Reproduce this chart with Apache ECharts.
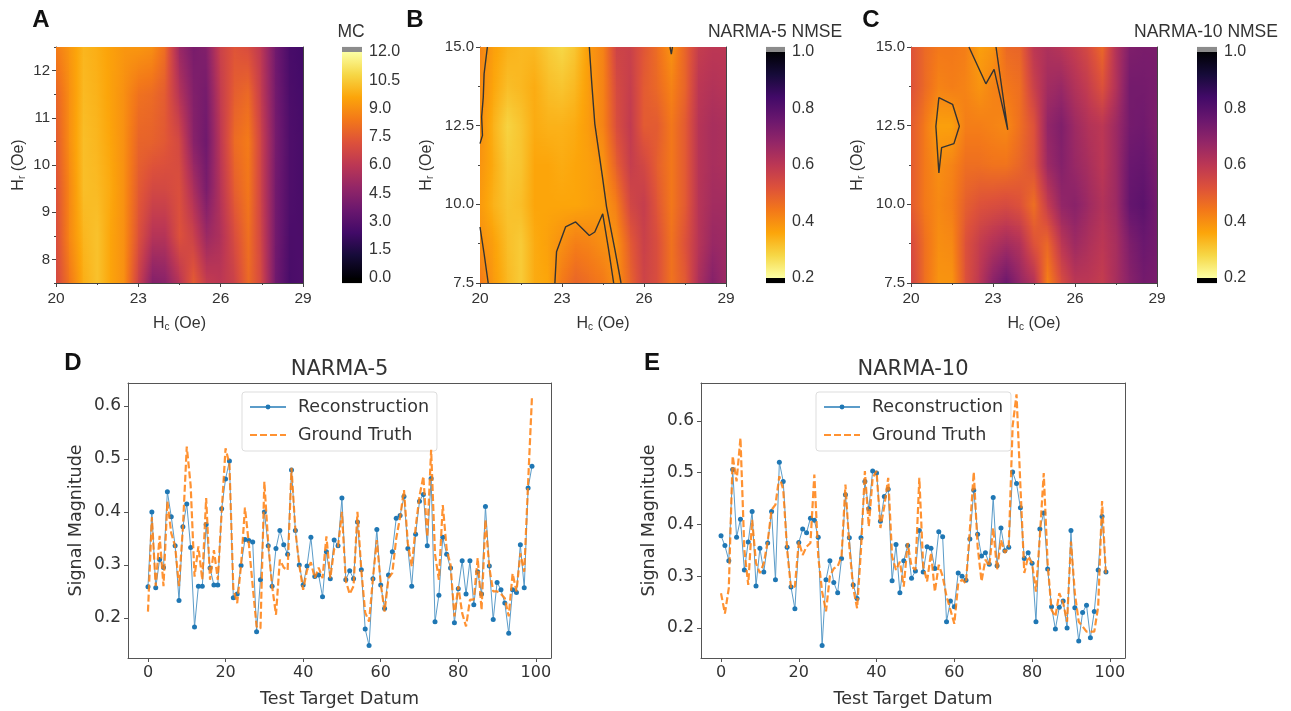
<!DOCTYPE html>
<html lang="en">
<head>
    <meta charset="UTF-8">
    <title>Reservoir heatmaps and NARMA reconstruction</title>
    <script src="https://cdn.jsdelivr.net/npm/echarts@6/dist/echarts.min.js"></script>
    <style>html,body{margin:0;background:#fff}</style>
</head>
<body>
    <div id="chart" style="width:1291px;height:711px"></div>

    <script>
        // Hc columns shared by the three maps
        const hcValues = [20,20.5,21,21.5,22,22.5,23,23.5,24,24.5,25,25.5,26,26.5,27,27.5,28,28.5,29];

        // A: memory capacity, rows bottom to top
        const hrA = [7.5,8.5,9.5,10.5,11.5,12.5];
        const mcGrid = [
            [6.8,8.3,9.8,10.3,9.6,9.0,6.5,4.3,4.5,5.8,7.6,6.3,6.0,6.5,8.0,6.8,3.8,2.6,2.8],
            [7.0,8.8,10.0,10.3,9.6,9.0,7.2,5.8,5.8,7.2,6.5,5.0,5.6,7.0,8.2,6.6,3.9,2.7,2.7],
            [7.2,8.8,10.2,10.1,9.7,9.0,7.5,6.8,6.8,7.1,5.5,4.0,5.8,7.6,8.4,6.5,3.9,2.8,2.6],
            [7.5,9.0,10.2,10.0,9.6,9.0,7.8,7.7,7.4,6.8,4.5,3.7,6.0,8.0,8.5,6.5,4.0,2.8,2.6],
            [7.8,9.0,10.1,9.9,9.5,9.0,8.2,8.0,7.5,5.8,4.3,3.9,6.2,7.6,8.0,6.2,3.9,2.7,2.5],
            [8.5,9.2,10.0,9.8,9.5,9.2,9.2,9.0,8.0,5.0,4.0,4.3,6.5,7.3,7.0,6.0,3.8,2.6,2.4]
        ];

        // B and C: NMSE, rows bottom to top
        const hrBC = [7.5,8.75,10,11.25,12.5,13.75,15];
        const narma5Grid = [
            [.44,.38,.33,.30,.35,.36,.44,.48,.46,.44,.39,.48,.56,.53,.45,.50,.63,.71,.66],
            [.40,.37,.32,.30,.35,.37,.40,.43,.42,.40,.39,.50,.57,.53,.45,.52,.61,.67,.66],
            [.38,.34,.31,.32,.36,.36,.36,.36,.37,.38,.43,.55,.58,.51,.44,.50,.61,.65,.65],
            [.39,.35,.30,.31,.36,.36,.35,.36,.37,.39,.49,.58,.55,.49,.44,.50,.61,.64,.63],
            [.40,.34,.285,.31,.35,.34,.34,.35,.38,.42,.53,.59,.50,.50,.44,.50,.61,.64,.63],
            [.41,.36,.32,.33,.35,.32,.31,.33,.38,.42,.54,.58,.50,.47,.42,.48,.60,.62,.61],
            [.42,.37,.34,.33,.33,.30,.28,.31,.38,.42,.56,.57,.51,.46,.39,.48,.58,.60,.60]
        ];
        const narma10Grid = [
            [.56,.46,.39,.39,.52,.60,.70,.76,.68,.62,.42,.53,.60,.60,.58,.64,.70,.74,.73],
            [.54,.46,.40,.41,.52,.58,.62,.65,.62,.52,.47,.60,.66,.63,.60,.64,.72,.76,.74],
            [.50,.44,.41,.43,.49,.52,.53,.54,.52,.46,.58,.68,.70,.66,.62,.66,.77,.79,.74],
            [.50,.44,.40,.42,.46,.46,.45,.45,.48,.52,.66,.71,.67,.64,.60,.66,.76,.77,.73],
            [.50,.44,.37,.37,.43,.43,.42,.41,.46,.52,.68,.72,.66,.62,.60,.66,.74,.75,.72],
            [.52,.47,.42,.43,.42,.39,.42,.44,.46,.57,.65,.67,.62,.58,.52,.62,.74,.74,.73],
            [.52,.47,.44,.44,.43,.37,.39,.47,.48,.60,.63,.61,.58,.54,.47,.62,.72,.73,.73]
        ];

        // contour lines, [Hc, Hr]
        const contoursB = [
            [[20.27,15],[20.15,14.15],[20.12,13.41],[20.06,12.78],[20.09,12.19],[20,11.93]],
            [[20,9.28],[20.15,8.43],[20.3,7.5]],
            [[24,15],[24.09,13.83],[24.2,12.56],[24.48,10.87],[24.63,9.92],[24.94,8.54],[25.16,7.5]],
            [[22.74,7.5],[22.8,8.49],[23.13,9.28],[23.5,9.44],[24,9.01],[24.2,9.12],[24.49,9.7],[24.7,8.59],[24.89,7.5]],
            [[26.95,15],[27,14.77],[27.04,15]]
        ];
        const contoursC = [
            [[21.02,11],[20.91,12.48],[21.02,13.39],[21.52,13.18],[21.77,12.48],[21.57,11.93],[21.12,11.8],[21.02,11]],
            [[22.12,15],[22.74,13.83],[23.04,14.29],[23.54,12.37],[23.11,15]]
        ];

        // D and E line data
        const narma5Recon = [.259,.40,.257,.31,.295,.438,.391,.336,.233,.372,.415,.333,.183,.26,.26,.376,.294,.262,.262,.406,
            .462,.496,.238,.245,.299,.348,.346,.343,.174,.272,.40,.336,.26,.331,.365,.338,.32,.479,.365,.30,
            .262,.298,.352,.278,.281,.24,.325,.274,.347,.336,.426,.272,.289,.274,.381,.291,.179,.148,.274,.367,
            .262,.218,.281,.325,.388,.393,.429,.331,.26,.358,.42,.433,.336,.463,.193,.243,.352,.32,.294,.191,
            .255,.308,.245,.308,.225,.287,.245,.41,.298,.197,.267,.253,.228,.171,.253,.248,.338,.257,.445,.486];
        const narma5Truth = [.212,.39,.26,.355,.26,.42,.36,.335,.26,.37,.523,.45,.278,.335,.272,.426,.272,.328,.272,.40,
            .52,.49,.255,.228,.30,.408,.34,.26,.184,.18,.457,.34,.26,.206,.31,.295,.29,.483,.365,.30,
            .253,.29,.305,.275,.295,.275,.354,.275,.33,.335,.40,.27,.245,.26,.40,.29,.21,.193,.275,.347,
            .265,.212,.275,.285,.35,.39,.441,.34,.297,.37,.43,.467,.353,.517,.32,.272,.413,.33,.30,.203,
            .26,.209,.184,.234,.235,.313,.215,.385,.295,.25,.25,.245,.237,.203,.284,.25,.322,.287,.455,.618];
        const narma10Recon = [.378,.359,.33,.506,.375,.41,.312,.366,.425,.281,.354,.308,.364,.425,.293,.52,.483,.356,.279,.237,
            .365,.391,.384,.412,.408,.375,.166,.293,.33,.288,.268,.334,.457,.374,.283,.257,.374,.483,.43,.503,
            .499,.406,.454,.468,.291,.361,.268,.33,.359,.296,.31,.388,.308,.357,.354,.315,.386,.376,.212,.252,
            .241,.306,.30,.292,.372,.466,.381,.339,.345,.323,.452,.32,.393,.349,.356,.501,.479,.432,.334,.345,
            .325,.212,.391,.422,.314,.241,.198,.24,.252,.20,.388,.239,.175,.23,.244,.181,.232,.312,.415,.308];
        const narma10Truth = [.267,.228,.277,.532,.483,.567,.351,.283,.409,.325,.306,.325,.367,.428,.438,.493,.467,.351,.277,.28,
            .367,.341,.357,.364,.496,.338,.27,.232,.30,.315,.319,.338,.477,.357,.277,.238,.351,.503,.396,.49,
            .503,.393,.435,.49,.338,.312,.328,.28,.364,.319,.312,.49,.319,.29,.345,.27,.322,.30,.261,.235,
            .208,.286,.293,.286,.39,.501,.357,.29,.332,.319,.393,.312,.37,.345,.357,.59,.651,.474,.306,.338,
            .325,.27,.377,.499,.325,.235,.222,.267,.248,.212,.367,.267,.212,.203,.193,.193,.193,.241,.445,.30];

        // tick labels
        const hcTicks = [20,23,26,29];
        const hcMinor = [21.5,24.5,27.5];
        const hrTicksA = [8,9,10,11,12];
        const hrMinorA = [7.5,8.5,9.5,10.5,11.5,12.5];
        const hrTicksBC = [7.5,10,12.5,15];
        const hrMinorBC = [8.75,11.25,13.75];
        const cbTicksA = [0,1.5,3,4.5,6,7.5,9,10.5,12];
        const cbTicksBC = [.2,.4,.6,.8,1];
        const cbMinorBC = [.23,.26,.29,.32,.35,.38,.41,.44,.47,.5,.53,.56,.59,.62,.65,.68,.71,.74,.77,.83,.86,.89,.92,.95,.98];
        const datumTicks = [0,20,40,60,80,100];
        const signalTicks = [.2,.3,.4,.5,.6];

        const infernoStops = ['#000004','#160b39','#420a68','#6a176e','#932667','#bc3754','#dd513a','#f37819','#fca50a','#f6d746','#fcffa4'];
        const infernoRgb = infernoStops.map(c => [1,3,5].map(k => parseInt(c.substr(k,2),16)));

        function inferno(t) {
            t = Math.max(0, Math.min(1, t)) * 10;
            let i = Math.min(9, Math.floor(t)), f = t - i;
            let a = infernoRgb[i], b = infernoRgb[i+1];
            return 'rgb(' + [0,1,2].map(k => Math.round(a[k] + (b[k]-a[k])*f)).join(',') + ')';
        }

        const TXT = '#333';
        const SANS = '"Liberation Sans", Arial, sans-serif';
        const DEJA = '"DejaVu Sans", sans-serif';

        let grids = [], xAxes = [], yAxes = [], series = [], titles = [], legends = [];

        function addX(o) { xAxes.push(o); return xAxes.length - 1; }
        function addY(o) { yAxes.push(o); return yAxes.length - 1; }

        function fieldName(sub) {
            return '{t|H}{s|' + sub + '}{t| (Oe)}';
        }
        const nameRich = {
            t: {fontFamily:SANS, fontSize:16, color:TXT},
            s: {fontFamily:SANS, fontSize:10, color:TXT, verticalAlign:'bottom', padding:[6,0,0,0]}
        };

        // one contour-style map with its colour bar
        function addMap(box, cbox, hrRows, values, toT, yTicks, yMinor, yFmt, yNameGap, contours, cb) {
            grids.push({left:box[0], top:47, width:box[1], height:236, show:false});
            let g = grids.length - 1;
            let lineStyle = {color:'#444', width:1};
            let frame = {onZero:false, lineStyle};
            let ymin = hrRows[0], ymax = hrRows[hrRows.length-1];
            let x0 = addX({type:'value', gridIndex:g, min:20, max:29, position:'bottom',
                name:fieldName('c'), nameLocation:'middle', nameGap:33, nameTextStyle:{rich:nameRich},
                axisLine:frame, splitLine:{show:false},
                axisTick:{customValues:hcTicks, length:4, lineStyle},
                axisLabel:{customValues:hcTicks, fontFamily:SANS, fontSize:15.5, color:TXT, margin:8, hideOverlap:false}});
            addX({type:'value', gridIndex:g, min:20, max:29, position:'bottom',
                axisLine:{show:false}, splitLine:{show:false}, axisLabel:{show:false},
                axisTick:{customValues:hcMinor, length:2, lineStyle}});
            addX({type:'value', gridIndex:g, min:20, max:29, position:'top',
                axisLine:frame, splitLine:{show:false}, axisLabel:{show:false}, axisTick:{show:false}});
            let y0 = addY({type:'value', gridIndex:g, min:ymin, max:ymax, position:'left',
                name:fieldName('r'), nameLocation:'middle', nameGap:yNameGap, nameRotate:90, nameTextStyle:{rich:nameRich},
                axisLine:frame, splitLine:{show:false},
                axisTick:{customValues:yTicks, length:4, lineStyle},
                axisLabel:{customValues:yTicks, formatter:yFmt, fontFamily:SANS, fontSize:15, color:TXT, margin:6, hideOverlap:false}});
            addY({type:'value', gridIndex:g, min:ymin, max:ymax, position:'left',
                axisLine:{show:false}, splitLine:{show:false}, axisLabel:{show:false},
                axisTick:{customValues:yMinor, length:2, lineStyle}});
            addY({type:'value', gridIndex:g, min:ymin, max:ymax, position:'right',
                axisLine:frame, splitLine:{show:false}, axisLabel:{show:false}, axisTick:{show:false}});

            // one item per cell, shaded between its four corner readings
            let cells = [];
            for (let j = 0; j < hrRows.length - 1; j++) {
                for (let i = 0; i < hcValues.length - 1; i++) {
                    cells.push([hcValues[i], hrRows[j], hcValues[i+1], hrRows[j+1], values[j][i], values[j][i+1], values[j+1][i], values[j+1][i+1]]);
                }
            }
            series.push({
                type:'custom', xAxisIndex:x0, yAxisIndex:y0, data:cells, silent:true, clip:true,
                encode:{x:[0,2], y:[1,3]},
                renderItem: function(params, api) {
                    let p0 = api.coord([api.value(0), api.value(1)]);
                    let p1 = api.coord([api.value(2), api.value(3)]);
                    let a = api.value(4), b = api.value(5), c = api.value(6), d = api.value(7);
                    let left = Math.floor(p0[0]), right = Math.ceil(p1[0]);
                    let steps = Math.max(1, Math.round((p0[1]-p1[1])/2));
                    let kids = [];
                    for (let s = 0; s < steps; s++) {
                        let f = (s+.5)/steps;
                        let vl = a + (c-a)*f, vr = b + (d-b)*f;
                        let yb = p0[1] + (p1[1]-p0[1])*s/steps;
                        let yt = p0[1] + (p1[1]-p0[1])*(s+1)/steps;
                        let stops = [0,.25,.5,.75,1].map(o => ({offset:o, color:inferno(toT(vl + (vr-vl)*o))}));
                        kids.push({type:'rect',
                            shape:{x:left, y:Math.floor(yt), width:right-left, height:Math.ceil(yb)-Math.floor(yt)},
                            style:{fill:new echarts.graphic.LinearGradient(0,0,1,0,stops)}});
                    }
                    return {type:'group', children:kids};
                }
            });

            contours.forEach(line => series.push({
                type:'line', xAxisIndex:x0, yAxisIndex:y0, data:line, showSymbol:false, symbol:'none', silent:true,
                lineStyle:{color:'#333', width:1.4}, z:5
            }));

            // colour bar
            grids.push({left:cbox[0], top:52, width:cbox[1], height:226, show:false});
            let gc = grids.length - 1;
            let cx = addX({type:'category', gridIndex:gc, data:['bar'], show:false});
            let cy = addY({type:'value', gridIndex:gc, min:cb.min, max:cb.max, position:'right',
                axisLine:{show:false}, splitLine:{show:false},
                axisTick:{customValues:cb.ticks, length:4, lineStyle:{color:'#555'}},
                axisLabel:{customValues:cb.ticks, formatter:v => v.toFixed(1), fontFamily:SANS, fontSize:16, color:TXT, margin:7, hideOverlap:false}});
            if (cb.minor) {
                addY({type:'value', gridIndex:gc, min:cb.min, max:cb.max, position:'right',
                    axisLine:{show:false}, splitLine:{show:false}, axisLabel:{show:false},
                    axisTick:{customValues:cb.minor, length:2, lineStyle:{color:'#555'}}});
            }
            let stops = infernoStops.map((c,i) => ({offset:i/10, color:cb.reversed ? infernoStops[i] : infernoStops[10-i]}));
            series.push({
                type:'custom', xAxisIndex:cx, yAxisIndex:cy, clip:false, silent:true,
                data:[[0, cb.min, cb.max, cb.under, cb.over]],
                renderItem: function(params, api) {
                    let bot = api.coord([0, api.value(1)]), top = api.coord([0, api.value(2)]);
                    let under = api.coord([0, api.value(3)]), over = api.coord([0, api.value(4)]);
                    let w = api.size([1,0])[0], x = bot[0] - w/2;
                    return {type:'group', children:[
                        {type:'rect', shape:{x, y:top[1], width:w, height:bot[1]-top[1]},
                            style:{fill:new echarts.graphic.LinearGradient(0,0,0,1,stops)}},
                        {type:'rect', shape:{x, y:over[1], width:w, height:top[1]-over[1]}, style:{fill:'#8c8c8c'}},
                        {type:'rect', shape:{x, y:bot[1], width:w, height:under[1]-bot[1]}, style:{fill:'#000'}}
                    ]};
                }
            });
            titles.push({text:cb.title, left:cb.titleX - 5, top:18, textAlign:'center',
                textStyle:{fontFamily:SANS, fontSize:17.5, fontWeight:'normal', color:TXT}});
        }

        // one reconstruction vs truth panel
        function addLines(box, title, recon, truth, ymin, ymax, legendLeft) {
            grids.push({left:box[0], top:383, width:box[1], height:275, show:false});
            let g = grids.length - 1;
            let lineStyle = {color:'#555', width:1};
            let frame = {onZero:false, lineStyle};
            let xd = {type:'value', gridIndex:g, min:-5.15, max:103.9, splitLine:{show:false}, axisLine:frame};
            let yd = {type:'value', gridIndex:g, min:ymin, max:ymax, splitLine:{show:false}, axisLine:frame};
            let x0 = addX(Object.assign({}, xd, {position:'bottom',
                name:'Test Target Datum', nameLocation:'middle', nameGap:32,
                nameTextStyle:{fontFamily:DEJA, fontSize:17.5, color:TXT},
                axisTick:{customValues:datumTicks, length:4, lineStyle},
                axisLabel:{customValues:datumTicks, fontFamily:DEJA, fontSize:16, color:TXT, margin:7, hideOverlap:false}}));
            addX(Object.assign({}, xd, {position:'top', axisTick:{show:false}, axisLabel:{show:false}}));
            let y0 = addY(Object.assign({}, yd, {position:'left',
                name:'Signal Magnitude', nameLocation:'middle', nameGap:43, nameRotate:90,
                nameTextStyle:{fontFamily:DEJA, fontSize:17.5, color:TXT},
                axisTick:{customValues:signalTicks, length:4, lineStyle},
                axisLabel:{customValues:signalTicks, formatter:v => v.toFixed(1), fontFamily:DEJA, fontSize:17, color:TXT, margin:7, hideOverlap:false}}));
            addY(Object.assign({}, yd, {position:'right', axisTick:{show:false}, axisLabel:{show:false}}));
            series.push({
                name:'Reconstruction', type:'line', xAxisIndex:x0, yAxisIndex:y0,
                data:recon.map((v,i) => [i,v]), symbol:'circle', symbolSize:5, showSymbol:true, showAllSymbol:true,
                itemStyle:{color:'#1f77b4'}, lineStyle:{color:'#5b9cc9', width:1}, z:3
            });
            series.push({
                name:'Ground Truth', type:'line', xAxisIndex:x0, yAxisIndex:y0,
                data:truth.map((v,i) => [i,v]), symbol:'none', showSymbol:false,
                itemStyle:{color:'#ff7f0e'}, lineStyle:{color:'#ff7f0e', width:2.2, type:[7,3], opacity:.85}, z:4
            });
            titles.push({text:title, left:box[0]+box[1]/2 - 5, top:354, textAlign:'center',
                textStyle:{fontFamily:DEJA, fontSize:21, fontWeight:'normal', color:TXT}});
            legends.push({left:legendLeft, top:392, orient:'vertical', itemWidth:36, itemHeight:6, itemGap:10,
                padding:[6,8,7,7], borderColor:'#ddd', borderWidth:1, borderRadius:3, backgroundColor:'rgba(255,255,255,.8)',
                data:['Reconstruction', {name:'Ground Truth', itemStyle:{opacity:0}}], selectedMode:false,
                textStyle:{fontFamily:DEJA, fontSize:17.5, color:TXT, padding:[0,0,0,7]}});
        }

        addMap([56,247], [342,20], hrA, mcGrid, v => v/12, hrTicksA, hrMinorA, v => String(v), 29, [],
            {min:0, max:12, under:-.27, over:12.27, ticks:cbTicksA, reversed:false, title:'MC', titleX:351});
        addMap([480,246], [766,19], hrBC, narma5Grid, v => 1-(v-.2)/.8, hrTicksBC, hrMinorBC, v => v.toFixed(1), 45, contoursB,
            {min:.2, max:1, under:.182, over:1.018, ticks:cbTicksBC, minor:cbMinorBC, reversed:true, title:'NARMA-5 NMSE', titleX:775});
        addMap([911,246], [1197,20], hrBC, narma10Grid, v => 1-(v-.2)/.8, hrTicksBC, hrMinorBC, v => v.toFixed(1), 45, contoursC,
            {min:.2, max:1, under:.182, over:1.018, ticks:cbTicksBC, minor:cbMinorBC, reversed:true, title:'NARMA-10 NMSE', titleX:1206});

        addLines([128,423], 'NARMA-5', narma5Recon, narma5Truth, .1245, .643, 242);
        addLines([701,424], 'NARMA-10', narma10Recon, narma10Truth, .142, .673, 816);

        // panel letters
        [['A',36,3],['B',410,3],['C',866,3],['D',68,346],['E',647,346]].forEach(p => titles.push({
            text:p[0], left:p[1], top:p[2], textAlign:'center',
            textStyle:{fontFamily:SANS, fontSize:24, fontWeight:'bold', color:'#111'}
        }));

        let chart = echarts.init(document.getElementById('chart'));
        chart.setOption({
            animation:false,
            backgroundColor:'#fff',
            title:titles,
            grid:grids,
            xAxis:xAxes,
            yAxis:yAxes,
            legend:legends,
            series:series
        });
    </script>
</body>
</html>
